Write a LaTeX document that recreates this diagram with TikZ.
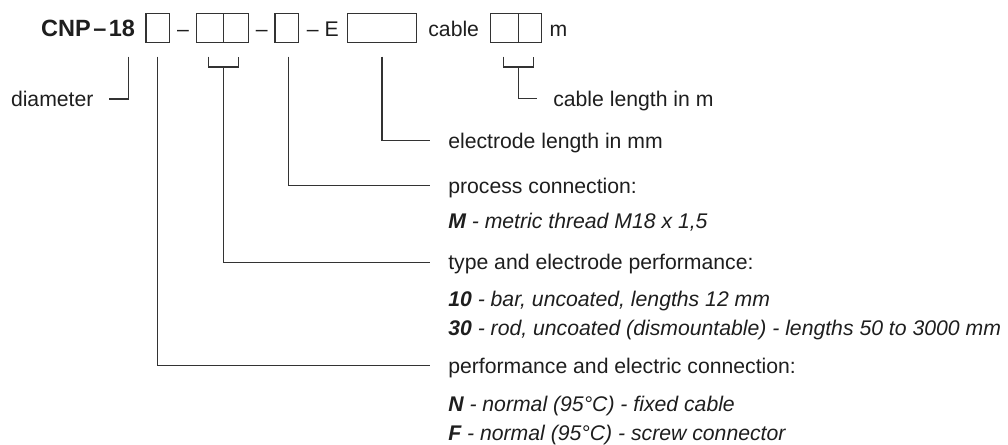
\documentclass[tikz,border=0pt]{standalone}
\usepackage{fontspec}
\setmainfont{Liberation Sans}
\usetikzlibrary{positioning,calc}
\definecolor{inkgray}{HTML}{1E1E1E}
\definecolor{linegray}{HTML}{333333}
\newcommand\optline[2]{\textit{\textbf{#1} - #2}}

\begin{document}
\begin{tikzpicture}[x=1pt,y=-1pt,
    font=\fontsize{21.2}{29}\selectfont,
    slot/.style={draw=linegray,line width=1.2pt,minimum height=29pt,inner sep=0pt,outer sep=0pt,anchor=north west},
    txt/.style={inner sep=0pt,outer sep=0pt,text height=15.2pt,text depth=0pt,anchor=west,text=inkgray},
    row/.style={txt,anchor=center,yshift=-1.4pt},
    lead/.style={linegray,line width=1.1pt}
    ]
    \useasboundingbox (0,0) rectangle (1008,444);
    % order code row
    \node[txt,anchor=east,font=\fontsize{23.5}{29}\selectfont\bfseries] (code) at (135,29.2) {CNP\kern2.5pt--\kern2.5pt18};
    \node[slot,minimum width=23.3pt] (b1) at (146,13.3) {};
    \node[slot,minimum width=26.6pt] (b2) at (196.7,13.3) {};
    \node[slot,minimum width=25pt] (b3) [right=0pt of b2] {};
    \node[slot,minimum width=23.3pt] (b4) at (275,13.3) {};
    \node[slot,minimum width=69.4pt] (b5) at (347.3,13.3) {};
    \node[slot,minimum width=27.6pt] (b6) at (490.7,13.3) {};
    \node[slot,minimum width=23.4pt] (b7) [right=0pt of b6] {};
    \node[row] (d1) at ($(b1.east)!0.5!(b2.west)$) {--};
    \node[row] (d2) at ($(b3.east)!0.5!(b4.west)$) {--};
    \node[row] (d3) at ($(b4.east)!0.5!(b5.west)$) {-- E};
    \node[row] (cab) at ($(b5.east)!0.5!(b6.west)$) {cable};
    \node[row,anchor=west] (unit) [right=8pt of b7] {m};
    % labels
    \node[txt] (diam) at (11,99) {diameter};
    \node[txt] (clen) at (553.3,98.5) {cable length in m};
    \node[txt] (elen) at (448.3,140.5) {electrode length in mm};
    \node[txt] (proc) at (448.3,185.7) {process connection:};
    \node[txt] (procM) at (448.3,220.7) {\optline{M}{metric thread M18 x 1,5}};
    \node[txt] (type) at (448.3,262.3) {type and electrode performance:};
    \node[txt] (type10) at (448.3,299) {\optline{10}{bar, uncoated, lengths 12 mm}};
    \node[txt] (type30) at (448.3,328.3) {\optline{30}{rod, uncoated (dismountable) - lengths 50 to 3000 mm}};
    \node[txt] (perf) at (448.3,365.7) {performance and electric connection:};
    \node[txt] (perfN) at (448.3,404) {\optline{N}{normal (95°C) - fixed cable}};
    \node[txt] (perfF) at (448.3,433.3) {\optline{F}{normal (95°C) - screw connector}};
    % leader lines
    \coordinate (dtick) at (128.3,56.7);
    \draw[lead] (dtick) |- ([xshift=16pt]diam.east);
    \draw[lead] ([yshift=-14.4pt]b1.south) |- ([xshift=-18.3pt]perf.west);
    \draw[lead] ([xshift=-15pt,yshift=-14.4pt]b3.south west) |- ([xshift=15pt,yshift=-24.7pt]b3.south west) -- ++(0,-10.3);
    \draw[lead] ([yshift=-24.7pt]b3.south west) |- ([xshift=-18.3pt]type.west);
    \draw[lead] ([xshift=2pt,yshift=-14.4pt]b4.south) |- ([xshift=-18.3pt]proc.west);
    \draw[lead] ([yshift=-14.4pt]b5.south) |- ([xshift=-18.3pt]elen.west);
    \draw[lead] ([xshift=-15pt,yshift=-14.4pt]b7.south west) |- ([xshift=15pt,yshift=-24.7pt]b7.south west) -- ++(0,-10.3);
    \draw[lead] ([yshift=-24.7pt]b7.south west) |- ([xshift=-16.6pt]clen.west);
\end{tikzpicture}
\end{document}
